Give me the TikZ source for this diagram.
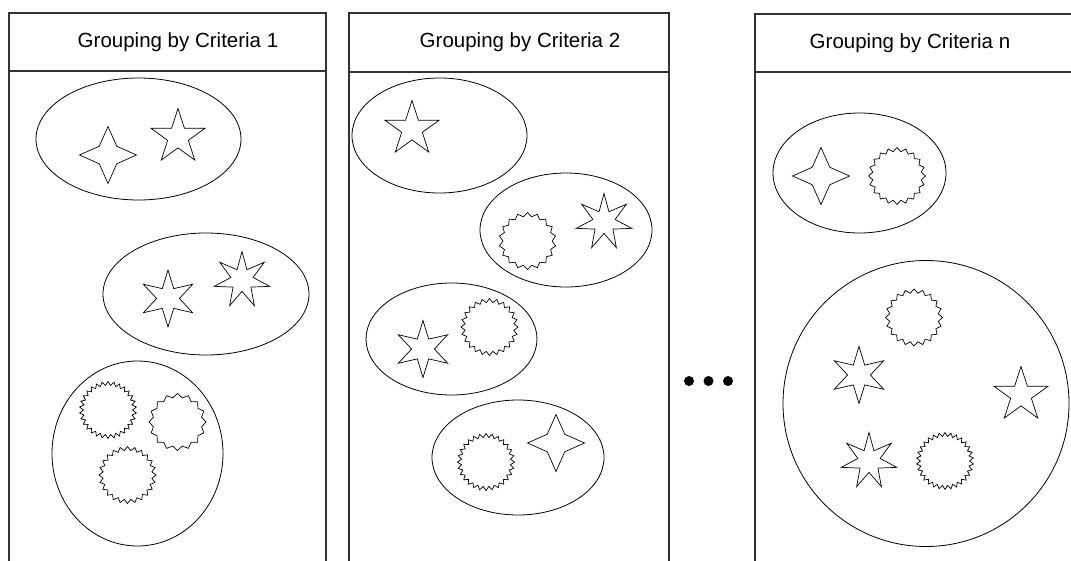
\documentclass[tikz,border=0pt]{standalone}
\usepackage{fontspec}
\setmainfont{Liberation Sans}
\usetikzlibrary{shapes.geometric}

\begin{document}
\begin{tikzpicture}[
		x=1pt,
		y=-1pt,
		panel/.style={draw=black!80, line width=1.1pt},
		title/.style={font=\fontsize{20.5}{24}\selectfont, inner sep=0pt},
		group/.style={draw, ellipse, inner sep=0pt, line width=0.8pt},
		item/.style={draw, star, inner sep=0pt, outer sep=0pt, line width=0.7pt, minimum size=57pt},
		fourstar/.style={item, star points=4, star point ratio=2.3},
		fivestar/.style={item, star points=5, star point ratio=2.618},
		sixstar/.style={item, star points=6, star point ratio=2.5},
		sevenstar/.style={item, star points=7, star point ratio=2.5},
		burst/.style={item, star points=#1, star point ratio=1.16},
		dot/.style={circle, fill=black, inner sep=0pt, minimum size=10pt}
		]
		
		\clip (0,0) rectangle (1071,560);
		
		%------------------------------------------------------------------
		% Panels
		%------------------------------------------------------------------
		\coordinate (PaTL) at (9,13);    \coordinate (PaBR) at (326,575);
		\coordinate (PbTL) at (349,13);  \coordinate (PbBR) at (669,575);
		\coordinate (PcTL) at (755,14);  \coordinate (PcBR) at (1085,575);
		
		\draw[panel] (PaTL) rectangle (PaBR);
		\draw[panel] (PbTL) rectangle (PbBR);
		\draw[panel] (PcTL) rectangle (PcBR);
		
		\draw[panel] (9,71) -- (326,71);
		\draw[panel] (349,72) -- (669,72);
		\draw[panel] (755,72) -- (1085,72);
		
		\node[title] (t1) at (178,42) {Grouping by Criteria 1};
		\node[title] (t2) at (520,42) {Grouping by Criteria 2};
		\node[title] (t3) at (910,43) {Grouping by Criteria n};
		
		%------------------------------------------------------------------
		% Criteria 1
		%------------------------------------------------------------------
		\node[group, minimum width=205pt, minimum height=122pt] (g1a) at (138.5,139) {};
		\node[group, minimum width=206pt, minimum height=122pt] (g1b) at (206,294) {};
		\node[group, minimum width=171pt, minimum height=185pt] (g1c) at (137.5,453.5) {};
		
		\node[fourstar]  (s1a) at (108,155) {};
		\node[fivestar]  (s1b) at (178,137) {};
		\node[sixstar]   (s1c) at (168,298.5) {};
		\node[sevenstar] (s1d) at (242,280) {};
		\node[burst=30]  (s1e) at (108,410) {};
		\node[burst=16]  (s1f) at (177.5,422) {};
		\node[burst=24]  (s1g) at (127.5,475) {};
		
		%------------------------------------------------------------------
		% Criteria 2
		%------------------------------------------------------------------
		\node[group, minimum width=175pt, minimum height=115pt] (g2a) at (439.5,135.5) {};
		\node[group, minimum width=172pt, minimum height=114pt] (g2b) at (566,230) {};
		\node[group, minimum width=171pt, minimum height=112pt] (g2c) at (451.5,339) {};
		\node[group, minimum width=172pt, minimum height=115pt] (g2d) at (518,457.5) {};
		
		\node[fivestar]  (s2a) at (412,129) {};
		\node[burst=18]  (s2b) at (527.5,241) {};
		\node[sevenstar] (s2c) at (604,222) {};
		\node[sixstar]   (s2d) at (423,349) {};
		\node[burst=24]  (s2e) at (489.5,327) {};
		\node[burst=28]  (s2f) at (486,462) {};
		\node[fourstar]  (s2g) at (556,443) {};
		
		%------------------------------------------------------------------
		% Criteria n
		%------------------------------------------------------------------
		\node[group, minimum width=173pt, minimum height=120pt] (g3a) at (859.5,173) {};
		\node[group, minimum width=286pt, minimum height=286pt] (g3b) at (926,403.5) {};
		
		\node[fourstar]  (s3a) at (821,176) {};
		\node[burst=20]  (s3b) at (897,176) {};
		\node[burst=20]  (s3c) at (914,317.5) {};
		\node[sixstar]   (s3d) at (859,375) {};
		\node[fivestar]  (s3e) at (1021,395) {};
		\node[sevenstar] (s3f) at (869,461) {};
		\node[burst=30]  (s3g) at (945,461) {};
		
		%------------------------------------------------------------------
		% Ellipsis between panels
		%------------------------------------------------------------------
		\node[dot] (d1) at (689,381) {};
		\node[dot] (d2) at (708.5,381) {};
		\node[dot] (d3) at (728,381) {};
		
	\end{tikzpicture}
\end{document}
